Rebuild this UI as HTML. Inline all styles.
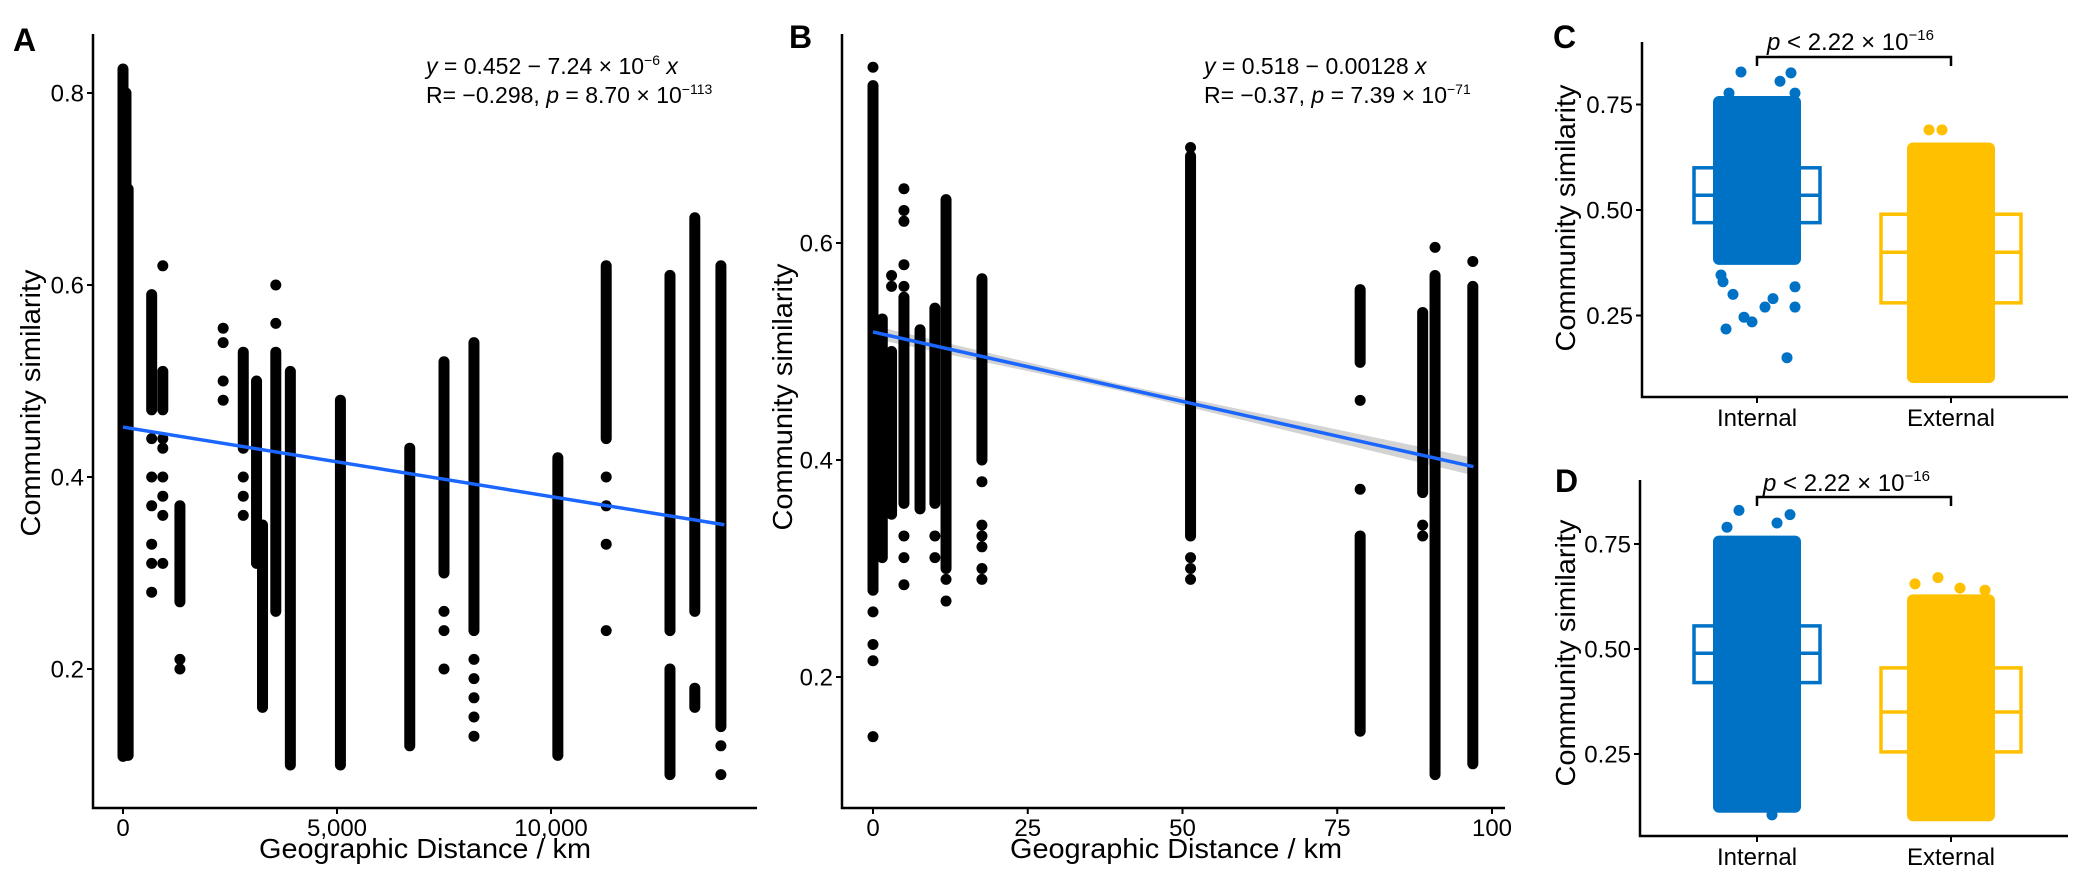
<!DOCTYPE html>
<html><head><meta charset="utf-8"><style>
html,body{margin:0;padding:0;background:#fff;}
svg{display:block;font-family:"Liberation Sans",Arial,sans-serif;}
</style></head><body>
<svg id="fig" width="2078" height="879" viewBox="0 0 2078 879" xmlns="http://www.w3.org/2000/svg">
<g id="gA"></g>
<g id="gB"></g>
<g id="gC"></g>
<g id="gD"></g>
<text x="13" y="51" font-size="32" font-weight="bold">A</text>
<text x="789" y="48" font-size="32" font-weight="bold">B</text>
<text x="1553" y="48" font-size="32" font-weight="bold">C</text>
<text x="1555" y="492" font-size="32" font-weight="bold">D</text>
<text x="426" y="74" font-size="23"><tspan font-style="italic">y</tspan> = 0.452 − 7.24 × 10<tspan font-size="14" dy="-9">−6</tspan><tspan dy="9" font-style="italic"> x</tspan></text>
<text x="426" y="103" font-size="23">R= −0.298, <tspan font-style="italic">p</tspan> = 8.70 × 10<tspan font-size="14" dy="-9">−113</tspan></text>
<text x="1204" y="74" font-size="23"><tspan font-style="italic">y</tspan> = 0.518 − 0.00128 <tspan font-style="italic">x</tspan></text>
<text x="1204" y="103" font-size="23">R= −0.37, <tspan font-style="italic">p</tspan> = 7.39 × 10<tspan font-size="14" dy="-9">−71</tspan></text>
<text x="1767" y="50" font-size="24"><tspan font-style="italic">p</tspan> &lt; 2.22 × 10<tspan font-size="15" dy="-10">−16</tspan></text>
<text x="1763" y="491" font-size="24"><tspan font-style="italic">p</tspan> &lt; 2.22 × 10<tspan font-size="15" dy="-10">−16</tspan></text>
</svg>
<script>
const NS="http://www.w3.org/2000/svg";
// ---- Panel A data ----
const aSegKm=[0,70,120,670,930,1330,2810,3120,3260,3570,3910,5080,6700,7500,8200,10160,11290,12780,12780,13360,13360,13970];
const aSegLo=[0.109,0.11,0.11,0.47,0.47,0.27,0.43,0.31,0.16,0.26,0.10,0.10,0.12,0.30,0.24,0.11,0.44,0.24,0.09,0.26,0.16,0.14];
const aSegHi=[0.825,0.80,0.70,0.59,0.51,0.37,0.53,0.50,0.35,0.53,0.51,0.48,0.43,0.52,0.54,0.42,0.62,0.61,0.20,0.67,0.18,0.62];
const aPtKm=[670,670,670,670,670,670,930,930,930,930,930,930,930,1330,1330,2340,2340,2340,2340,2810,2810,2810,3570,3570,7500,7500,7500,8200,8200,8200,8200,8200,11290,11290,11290,11290,13970,13970];
const aPtV=[0.44,0.40,0.37,0.33,0.31,0.28,0.62,0.44,0.43,0.40,0.38,0.36,0.31,0.21,0.20,0.555,0.54,0.50,0.48,0.40,0.38,0.36,0.60,0.56,0.26,0.24,0.20,0.21,0.19,0.17,0.15,0.13,0.40,0.37,0.33,0.24,0.12,0.09];
const aYTicks=[0.2,0.4,0.6,0.8];
const aYLabels=["0.2","0.4","0.6","0.8"];
const aXTicks=[0,5000,10000];
const aXLabels=["0","5,000","10,000"];
const aFit=[0.452,-7.24e-6,0,14050];
// ---- Panel B data ----
const bSegKm=[0,1.5,3,5,7.6,10,11.8,17.6,51.3,78.7,78.7,88.8,90.8,96.9];
const bSegLo=[0.28,0.31,0.35,0.36,0.355,0.36,0.30,0.40,0.33,0.49,0.15,0.37,0.11,0.12];
const bSegHi=[0.745,0.53,0.50,0.55,0.52,0.54,0.64,0.567,0.68,0.557,0.33,0.536,0.57,0.56];
const bPtKm=[0,0,0,0,0,3,3,5,5,5,5,5,5,5,5,10,10,11.8,11.8,17.6,17.6,17.6,17.6,17.6,17.6,51.3,51.3,51.3,51.3,78.7,78.7,88.8,88.8,90.8,96.9];
const bPtV=[0.762,0.26,0.23,0.215,0.145,0.56,0.57,0.65,0.63,0.62,0.58,0.56,0.33,0.31,0.285,0.33,0.31,0.29,0.27,0.38,0.34,0.33,0.32,0.30,0.29,0.688,0.31,0.30,0.29,0.455,0.373,0.34,0.33,0.596,0.583];
const bYTicks=[0.2,0.4,0.6];
const bYLabels=["0.2","0.4","0.6"];
const bXTicks=[0,25,50,75,100];
const bXLabels=["0","25","50","75","100"];
const bFit=[0.518,-0.00128,0,97];
const bCiX=[0,40,97];
const bCiHalf=[0.006,0.003,0.008];
// ---- Panels C / D data ----
const groups=["Internal","External"];
const cBandLo=[0.37,0.09], cBandHi=[0.77,0.66];
const cQ1=[0.47,0.28], cMed=[0.535,0.40], cQ3=[0.60,0.49];
const cOutG=[0,0,0,0,0,0,0,0,0,0,0,0,0,0,0,0,1,1];
const cOutV=[0.827,0.825,0.805,0.777,0.777,0.346,0.30,0.246,0.235,0.218,0.15,0.27,0.27,0.318,0.29,0.33,0.69,0.69];
const cOutJ=[-16,34,23,-28,38,-36,-24,-13,-5,-31,30,8,38,38,16,-34,-22,-9];
const dBandLo=[0.11,0.09], dBandHi=[0.77,0.63];
const dQ1=[0.42,0.255], dMed=[0.49,0.35], dQ3=[0.555,0.455];
const dOutG=[0,0,0,0,0,1,1,1,1];
const dOutV=[0.83,0.82,0.80,0.79,0.105,0.67,0.655,0.645,0.64];
const dOutJ=[-18,33,20,-30,15,-13,-36,9,34];
const ciTicks=[0.25,0.5,0.75];
const ciLabels=["0.25","0.50","0.75"];

function mk(tag,parent,attrs){const e=document.createElementNS(NS,tag);for(const k in attrs)e.setAttribute(k,attrs[k]);parent.appendChild(e);return e;}
function txt(parent,x,y,s,size,anchor,len){const t=mk("text",parent,{x:x,y:y,"font-size":size,"text-anchor":anchor||"start"});if(len){t.setAttribute("textLength",len);t.setAttribute("lengthAdjust","spacingAndGlyphs");}t.textContent=s;return t;}

function scatterPanel(g,cfg){
  const xs=cfg.xs, ys=cfg.ys;
  const f=x=>cfg.fit[0]+cfg.fit[1]*x;
  if(cfg.ciX){
    const up=cfg.ciX.map((x,i)=>`${xs(x)},${ys(f(x)+cfg.ciH[i])}`);
    const dn=cfg.ciX.map((x,i)=>`${xs(x)},${ys(f(x)-cfg.ciH[i])}`).reverse();
    const band=mk("polygon",g,{points:up.concat(dn).join(" "),fill:"#c4c4c4",opacity:"0.75"});
    
    
  }
  for(let i=0;i<cfg.segX.length;i++){
    const s=mk("line",g,{x1:xs(cfg.segX[i]),x2:xs(cfg.segX[i]),y1:ys(cfg.segHi[i]),y2:ys(cfg.segLo[i]),stroke:"#000","stroke-width":"11","stroke-linecap":"round"});
    
    
  }
  for(let i=0;i<cfg.ptX.length;i++){
    const c=mk("circle",g,{cx:xs(cfg.ptX[i]),cy:ys(cfg.ptV[i]),r:"5.5",fill:"#000"});
    
    
  }
  const ln=mk("line",g,{x1:xs(cfg.fit[2]),y1:ys(f(cfg.fit[2])),x2:xs(cfg.fit[3]),y2:ys(f(cfg.fit[3])),stroke:"#1a66ff","stroke-width":"3.5"});
  
  
  const ax=mk("path",g,{d:`M${cfg.ax0},${cfg.top} V${cfg.base} H${cfg.ax1}`,fill:"none",stroke:"#000","stroke-width":"2.5"});
  
  
  for(let i=0;i<cfg.yT.length;i++){
    const y=ys(cfg.yT[i]);
    const tk=mk("line",g,{x1:cfg.ax0-6,x2:cfg.ax0,y1:y,y2:y,stroke:"#000","stroke-width":"2"});
    
    
    const t=txt(g,cfg.ax0-9,y+8.5,cfg.yL[i],24,"end");
    
    
  }
  for(let i=0;i<cfg.xT.length;i++){
    const x=xs(cfg.xT[i]);
    const tk=mk("line",g,{x1:x,x2:x,y1:cfg.base,y2:cfg.base+6,stroke:"#000","stroke-width":"2"});
    
    
    const t=txt(g,x,836,cfg.xL[i],24,"middle");
    
    
  }
  const xt=txt(g,cfg.xtX,858,"Geographic Distance / km",28,"middle",332);
  
  
  const yt=txt(g,0,0,"Community similarity",28,"middle",267);
  yt.setAttribute("transform",`translate(${cfg.ytX},${cfg.ytY}) rotate(-90)`);
  
  
}

const xA=k=>123+k*0.0428, yA=v=>93+(0.8-v)*960;
scatterPanel(document.getElementById("gA"),{xs:xA,ys:yA,segX:aSegKm,segLo:aSegLo,segHi:aSegHi,ptX:aPtKm,ptV:aPtV,fit:aFit,
  ax0:93,ax1:757,top:34,base:808,yT:aYTicks,yL:aYLabels,xT:aXTicks,xL:aXLabels,xtX:425,ytX:40,ytY:403});
const xB=k=>873+k*6.19, yB=v=>243+(0.6-v)*1085;
scatterPanel(document.getElementById("gB"),{xs:xB,ys:yB,segX:bSegKm,segLo:bSegLo,segHi:bSegHi,ptX:bPtKm,ptV:bPtV,fit:bFit,ciX:bCiX,ciH:bCiHalf,
  ax0:842,ax1:1505,top:34,base:808,yT:bYTicks,yL:bYLabels,xT:bXTicks,xL:bXLabels,xtX:1176,ytX:792,ytY:397});

const colors=["#0072C6","#FFC000"];
const catX=[1757,1951];
function boxPanel(g,cfg){
  const ys=cfg.ys;
  const hw=[63,70];
  for(let i=0;i<2;i++){
    const bx=mk("rect",g,{x:catX[i]-hw[i],y:ys(cfg.q3[i]),width:hw[i]*2,height:ys(cfg.q1[i])-ys(cfg.q3[i]),fill:"none",stroke:colors[i],"stroke-width":"3.5"});
    
    
    const md=mk("line",g,{x1:catX[i]-hw[i],x2:catX[i]+hw[i],y1:ys(cfg.med[i]),y2:ys(cfg.med[i]),stroke:colors[i],"stroke-width":"3.5"});
    
    
  }
  for(let i=0;i<2;i++){
    const bd=mk("rect",g,{x:catX[i]-44,y:ys(cfg.hi[i]),width:88,height:ys(cfg.lo[i])-ys(cfg.hi[i]),rx:"6",fill:colors[i]});
    
    
  }
  for(let i=0;i<cfg.oG.length;i++){
    const c=mk("circle",g,{cx:catX[cfg.oG[i]]+cfg.oJ[i],cy:ys(cfg.oV[i]),r:"5.5",fill:colors[cfg.oG[i]]});
    
    
  }
  const ax=mk("path",g,{d:`M${cfg.ax0},${cfg.top} V${cfg.base} H2068`,fill:"none",stroke:"#000","stroke-width":"2.5"});
  
  
  for(let i=0;i<ciTicks.length;i++){
    const y=ys(ciTicks[i]);
    const tk=mk("line",g,{x1:cfg.ax0-6,x2:cfg.ax0,y1:y,y2:y,stroke:"#000","stroke-width":"2"});
    
    
    const t=txt(g,cfg.ax0-9,y+8.5,ciLabels[i],24,"end");
    
    
  }
  for(let i=0;i<2;i++){
    const tk=mk("line",g,{x1:catX[i],x2:catX[i],y1:cfg.base,y2:cfg.base+6,stroke:"#000","stroke-width":"2"});
    
    
    const t=txt(g,catX[i],cfg.base+29,groups[i],24,"middle");
    
    
  }
  const br=mk("path",g,{d:`M${catX[0]},${cfg.brY+9} V${cfg.brY} H${catX[1]} V${cfg.brY+9}`,fill:"none",stroke:"#000","stroke-width":"2.5"});
  
  
  const yt=txt(g,0,0,"Community similarity",28,"middle",267);
  yt.setAttribute("transform",`translate(1575,${cfg.ytY}) rotate(-90)`);
  
  
}
const yC=v=>210-(v-0.5)*422;
boxPanel(document.getElementById("gC"),{ys:yC,lo:cBandLo,hi:cBandHi,q1:cQ1,med:cMed,q3:cQ3,oG:cOutG,oV:cOutV,oJ:cOutJ,ax0:1642,top:42,base:397,brY:57,ytY:218});
const yD=v=>649-(v-0.5)*420;
boxPanel(document.getElementById("gD"),{ys:yD,lo:dBandLo,hi:dBandHi,q1:dQ1,med:dMed,q3:dQ3,oG:dOutG,oV:dOutV,oJ:dOutJ,ax0:1640,top:480,base:836,brY:497,ytY:653});
</script>
</body></html>
